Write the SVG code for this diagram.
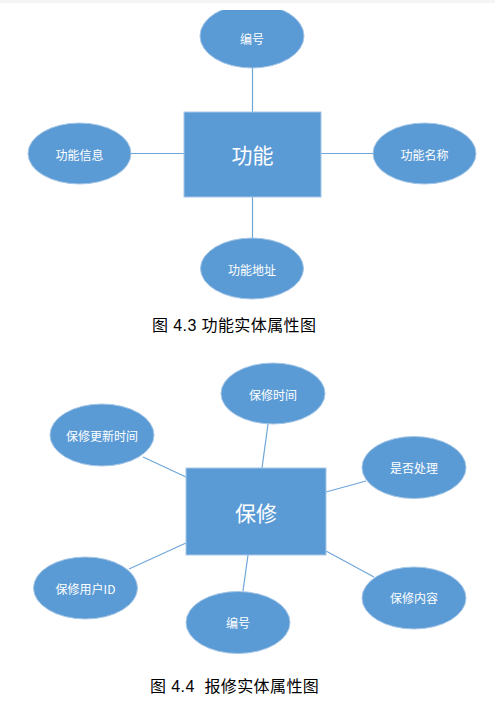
<svg xmlns="http://www.w3.org/2000/svg" width="495" height="709" viewBox="0 0 495 709">
<defs>
<style>
.n{fill:#5B9BD5;stroke:#A7C7E7;stroke-width:1}
.t{fill:#FFFFFF;font-family:"Noto Sans CJK SC","Noto Sans",sans-serif;font-size:12px;text-anchor:middle;dominant-baseline:central}
.big{font-size:21px}
.c{stroke:#6FA6DA;stroke-width:1.2;fill:none}
.cap{fill:#000;font-family:"Liberation Sans","Noto Sans CJK SC",sans-serif;font-size:16px;letter-spacing:0.4px;white-space:pre}
</style>
<clipPath id="topclip"><rect x="0" y="10" width="495" height="699"/></clipPath>
</defs>
<rect x="0" y="0" width="495" height="709" fill="#FFFFFF"/>
<rect x="0" y="0" width="495" height="3" fill="#F4F5F7"/>
<g id="connectors">
<line class="c" x1="252.5" y1="68" x2="252.5" y2="112"/>
<line class="c" x1="252.5" y1="197" x2="252.5" y2="238"/>
<line class="c" x1="131" y1="153.5" x2="184" y2="153.5"/>
<line class="c" x1="321" y1="153.5" x2="373" y2="153.5"/>
<line class="c" x1="268" y1="424" x2="262" y2="468"/>
<line class="c" x1="143" y1="457" x2="186" y2="477"/>
<line class="c" x1="366" y1="481" x2="326" y2="492"/>
<line class="c" x1="129" y1="569" x2="186" y2="543"/>
<line class="c" x1="248" y1="555" x2="243" y2="591"/>
<line class="c" x1="326" y1="551" x2="374" y2="577"/>
</g>
<g id="e1">
<rect class="n" x="184" y="112" width="137" height="85"/>
<text class="t big" x="252.5" y="154">功能</text>
</g>
<g id="a1">
<ellipse class="n" cx="252" cy="36" rx="52" ry="32" clip-path="url(#topclip)"/>
<text class="t" x="252" y="38">编号</text>
</g>
<g id="a2">
<ellipse class="n" cx="79.5" cy="153.5" rx="51.5" ry="30.5"/>
<text class="t" x="79.5" y="154">功能信息</text>
</g>
<g id="a3">
<ellipse class="n" cx="424.5" cy="153.5" rx="51.5" ry="30.5"/>
<text class="t" x="424.5" y="154">功能名称</text>
</g>
<g id="a4">
<ellipse class="n" cx="252" cy="268.5" rx="51.5" ry="30.5"/>
<text class="t" x="252" y="269">功能地址</text>
</g>
<text class="cap" x="152" y="331">图 4.3 功能实体属性图</text>
<g id="e2">
<rect class="n" x="186" y="468" width="140" height="87"/>
<text class="t big" x="256" y="512">保修</text>
</g>
<g id="b1">
<ellipse class="n" cx="273" cy="393.5" rx="52" ry="30.5"/>
<text class="t" x="273" y="394">保修时间</text>
</g>
<g id="b2">
<ellipse class="n" cx="102" cy="435" rx="52" ry="31"/>
<text class="t" x="102" y="435">保修更新时间</text>
</g>
<g id="b3">
<ellipse class="n" cx="414" cy="467.5" rx="52" ry="31"/>
<text class="t" x="414" y="467">是否处理</text>
</g>
<g id="b4">
<ellipse class="n" cx="85.5" cy="588" rx="52" ry="31"/>
<text class="t" x="85.5" y="588">保修用户ID</text>
</g>
<g id="b5">
<ellipse class="n" cx="238" cy="622.5" rx="52" ry="31"/>
<text class="t" x="238" y="622">编号</text>
</g>
<g id="b6">
<ellipse class="n" cx="414" cy="598" rx="52" ry="31"/>
<text class="t" x="414" y="597">保修内容</text>
</g>
<text class="cap" x="150" y="692">图 4.4  报修实体属性图</text>
</svg>
